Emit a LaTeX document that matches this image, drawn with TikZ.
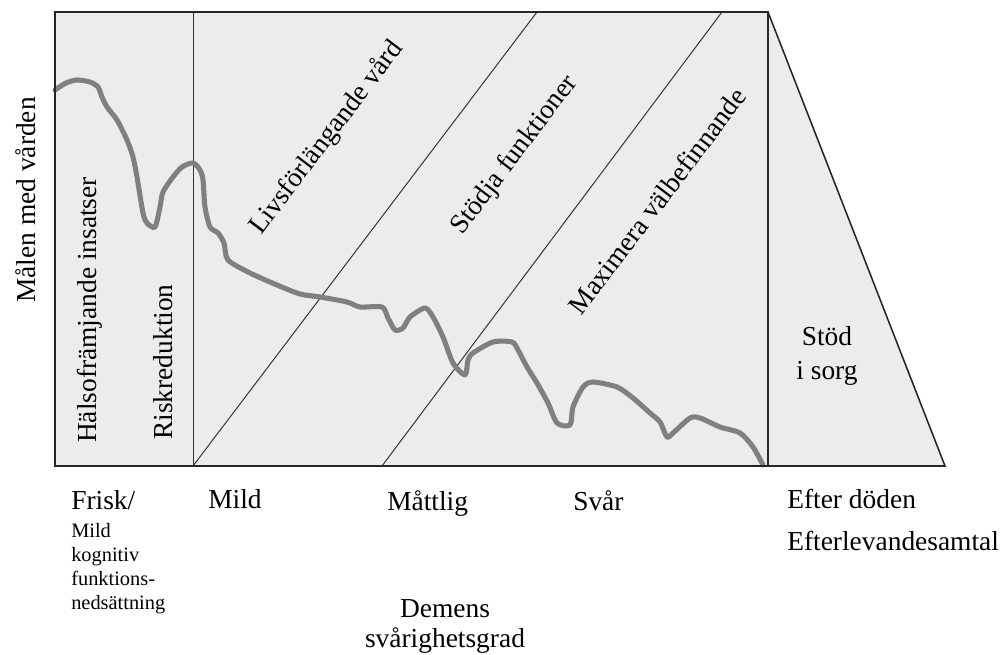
\documentclass[tikz,border=0pt]{standalone}
\usepackage{fontspec}
\setmainfont{Liberation Serif}

\tikzset{
    panel/.style={fill=gray!15},
    frameline/.style={draw=black!85, line width=1.4pt},
    divider/.style={draw=black!80, line width=0.7pt},
    curveline/.style={draw=gray, line width=3.6pt, line join=round, line cap=round},
    lab/.style={font=\fontsize{19.5}{24}\selectfont, inner sep=0pt},
    smalllab/.style={font=\fontsize{14.5}{17.2}\selectfont, inner sep=0pt, align=left},
    slantlab/.style={lab, rotate=52.85},
}

\begin{document}
\begin{tikzpicture}[x=0.025cm, y=-0.025cm]
    \useasboundingbox (0,0) rectangle (1005,655);
    \coordinate (tl) at (55,12);
    \coordinate (tr) at (768,12);
    \coordinate (bl) at (55,466);
    \coordinate (br) at (768,466);
    \coordinate (tip) at (945,466);
    \coordinate (vt) at (193,12);
    \coordinate (vb) at (193,466);
    \coordinate (d1t) at (537,12);
    \coordinate (d2b) at (382,466);
    \coordinate (d2t) at (722,12);

    % panels
    \fill[panel] (tr) -- (tip) -- (br) -- cycle;
    \fill[panel] (tl) rectangle (br);
    \draw[divider] (vt) -- (vb);
    \draw[divider] (vb) -- (d1t);
    \draw[divider] (d2b) -- (d2t);
    \draw[frameline, line width=1.1pt] (tr) -- (tip) -- (br);

    % goal curve
    \draw[curveline] plot[smooth, tension=0.45] coordinates {
        (55,90) (66,83) (77,80) (90,82) (98,87) (102,97) (107,107) (117,120)
        (127,140) (133,157) (137,177) (143,213) (147,223) (155,227) (160,207)
        (163,192) (173,177) (182,167) (193,163) (200,170) (203,180) (205,207)
        (210,227) (218,233) (224,243) (228,260) (250,273) (277,285) (300,294)
        (320,297) (347,302) (360,307) (382,307) (388,318) (395,330) (403,328)
        (410,317) (425,308) (433,317) (443,337) (453,363) (465,375) (468,360)
        (473,353) (493,342) (512,342) (518,350) (527,367) (537,383) (548,403)
        (557,423) (570,425) (573,407) (583,387) (593,382) (617,387) (633,398)
        (650,413) (660,422) (667,437) (673,433) (690,418) (700,418) (720,427)
        (740,433) (753,447) (763,465)};
    \draw[frameline] (tl) rectangle (br);

    % labels in the panels
    \node[lab, rotate=90] (goal) at (26,200) {Målen med vården};
    \node[lab, rotate=90] (halsa) at (90,310) {Hälsofrämjande insatser};
    \node[lab, rotate=90] (risk) at (163,362) {Riskreduktion};
    \node[slantlab] (livs) at (327,138) {Livsförlängande vård};
    \node[slantlab] (stod) at (515,155) {Stödja funktioner};
    \node[slantlab] (max) at (657,201) {Maximera välbefinnande};
    \node[lab, align=center, font=\fontsize{19.5}{24.5}\selectfont] (sorg) at (827,356) {Stöd\\i sorg};

    % stages below
    \node[lab, anchor=base west] (frisk) at (71,509) {Frisk/};
    \node[smalllab, anchor=north west] (mci) at (71,523) {Mild\\kognitiv\\funktions-\\nedsättning};
    \node[lab, anchor=base west] (mild) at (208,508) {Mild};
    \node[lab, anchor=base west] (mattlig) at (387,510) {Måttlig};
    \node[lab, anchor=base west] (svar) at (573,510) {Svår};
    \node[lab, anchor=base west] (efter) at (787,508) {Efter döden};
    \node[lab, anchor=base west] (samtal) at (787,550) {Efterlevandesamtal};
    \node[lab, anchor=base] (demens) at (445,617) {Demens};
    \node[lab, anchor=base] (grad) at (445,647) {svårighetsgrad};
\end{tikzpicture}
\end{document}
